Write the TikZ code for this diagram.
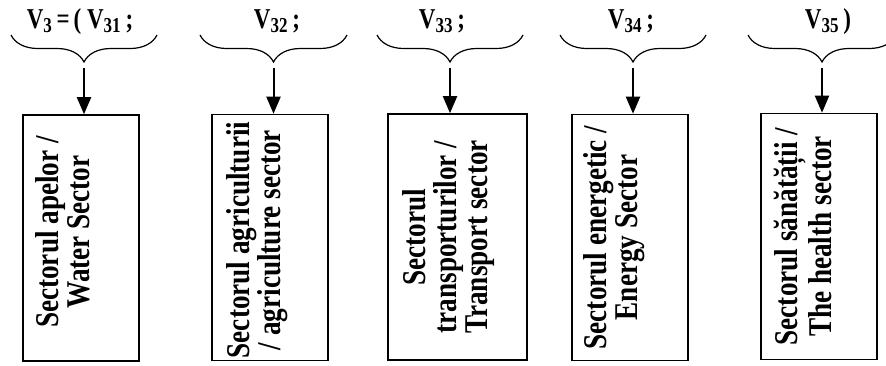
\documentclass[tikz,border=0pt]{standalone}
\usepackage{fontspec}
\setmainfont{Liberation Serif}
\usetikzlibrary{arrows.meta,decorations.pathreplacing}
\newcommand{\sub}[1]{\textsubscript{\fontsize{8.5}{10}\selectfont #1}}
\begin{document}
\begin{tikzpicture}[x=0.5pt,y=-0.5pt,
	brc/.style={decorate,decoration={brace,mirror,amplitude=13.5pt},line width=0.6pt},
	arr/.style={line width=1pt,-{Triangle[width=7pt,length=8.5pt]}},
	sector/.style={draw,line width=0.8pt,inner sep=0pt,minimum width=58pt,minimum height=123pt},
	wide/.style={minimum width=69.5pt},
	sectortext/.style={rotate=90,yscale=1.22,anchor=north,align=center,inner sep=0pt,font=\bfseries\fontsize{13.6}{12.6}\selectfont},
	vlabel/.style={yscale=1.25,anchor=base,inner sep=0pt,font=\bfseries\fontsize{11.5}{13}\selectfont}]
	\useasboundingbox (0,0) rectangle (886,365);
	\clip (0,0) rectangle (886,365);
	% labels
	\node[vlabel] (l1) at (80,28) {V\sub{3}\,=\,( V\sub{31}\,;};
	\node[vlabel] (l2) at (277,28) {V\sub{32}\,;};
	\node[vlabel] (l3) at (442,28) {V\sub{33}\,;};
	\node[vlabel] (l4) at (631,28) {V\sub{34}\,;};
	\node[vlabel] (l5) at (828,28) {V\sub{35}\,)};
	% braces
	\draw[brc] (11,35) -- (157,35);
	\draw[brc] (200,35) -- (347,35);
	\draw[brc] (377,35) -- (523,35);
	\draw[brc] (560,35) -- (706,35);
	\draw[brc] (748,35) -- (896,35);
	\coordinate (t1) at (84,68);
	\coordinate (t2) at (273.5,68);
	\coordinate (t3) at (450,68);
	\coordinate (t4) at (633,68);
	\coordinate (t5) at (822,68);
	% boxes
	\node[sector] (s1) at (81,238) {};
	\node[sector] (s2) at (270,237.5) {};
	\node[sector,wide] (s3) at (457.5,237) {};
	\node[sector] (s4) at (630,237.5) {};
	\node[sector] (s5) at (819,236.5) {};
	\node[sectortext] (x1) at (35,232) {Sectorul apelor /\\Water Sector};
	\node[sectortext] (x2) at (226,240) {Sectorul agriculturii\\/ agriculture sector};
	\node[sectortext] (x3) at (402,237) {Sectorul\\transporturilor /\\Transport sector};
	\node[sectortext] (x4) at (583,237.5) {Sectorul energetic /\\Energy Sector};
	\node[sectortext] (x5) at (774,236.5) {Sectorul sănătății /\\The health sector};
	% arrows
	\draw[arr] (t1) -- (t1 |- s1.north);
	\draw[arr] (t2) -- (t2 |- s2.north);
	\draw[arr] (t3) -- (t3 |- s3.north);
	\draw[arr] (t4) -- (t4 |- s4.north);
	\draw[arr] (t5) -- (t5 |- s5.north);
\end{tikzpicture}
\end{document}
